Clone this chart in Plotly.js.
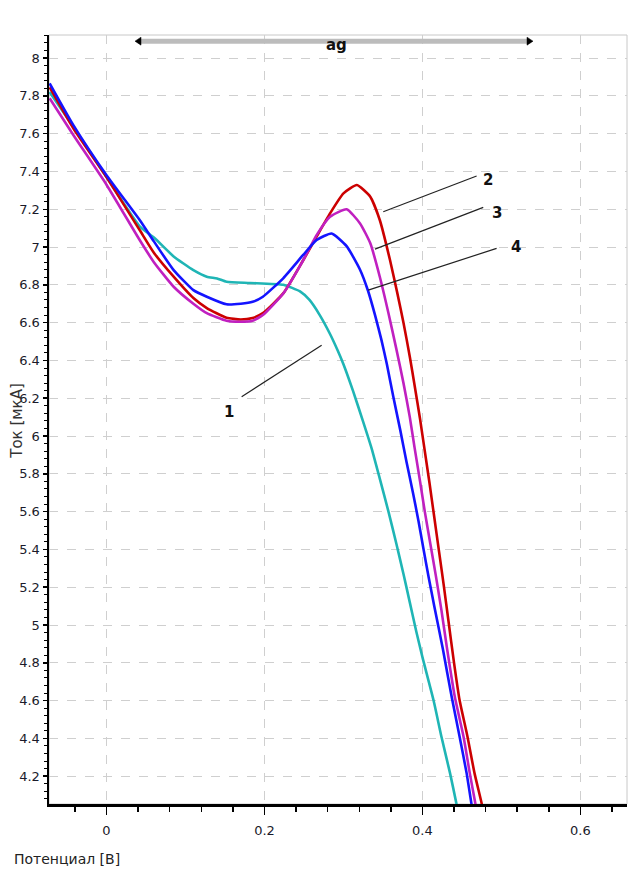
<!DOCTYPE html>
<html>
<head>
<meta charset="utf-8">
<script src="https://cdn.plot.ly/plotly-3.0.1.min.js"></script>
<style>html,body{margin:0;padding:0;background:#fff;}#chart{width:631px;height:872px;}</style>
</head>
<body>
<div id="chart"></div>
<script>
// Curve 1 (cyan)
const x1 = [-0.072, -0.042, 0, 0.042, 0.06, 0.085, 0.097, 0.11, 0.127, 0.14, 0.152, 0.182, 0.224, 0.245, 0.257, 0.27, 0.283, 0.293, 0.3, 0.312, 0.325, 0.336, 0.346, 0.357, 0.367, 0.376, 0.384, 0.392, 0.4, 0.414, 0.424, 0.435, 0.443, 0.446];
const y1 = [7.82, 7.637, 7.37, 7.11, 7.05, 6.95, 6.914, 6.878, 6.843, 6.834, 6.816, 6.81, 6.80, 6.765, 6.72, 6.64, 6.54, 6.45, 6.38, 6.24, 6.075, 5.93, 5.775, 5.60, 5.43, 5.27, 5.12, 4.97, 4.83, 4.603, 4.41, 4.215, 4.056, 3.99];
// Curve 2 (red)
const x2 = [-0.072, -0.042, 0, 0.042, 0.06, 0.085, 0.11, 0.127, 0.152, 0.17, 0.185, 0.198, 0.224, 0.249, 0.266, 0.283, 0.3, 0.317, 0.334, 0.346, 0.359, 0.368, 0.376, 0.384, 0.39, 0.397, 0.403, 0.409, 0.415, 0.421, 0.427, 0.433, 0.44, 0.447, 0.457, 0.466, 0.475, 0.478];
const y2 = [7.845, 7.628, 7.37, 7.09, 6.97, 6.843, 6.73, 6.677, 6.626, 6.617, 6.625, 6.65, 6.756, 6.93, 7.055, 7.178, 7.284, 7.328, 7.266, 7.143, 6.93, 6.76, 6.60, 6.42, 6.27, 6.09, 5.92, 5.75, 5.57, 5.39, 5.21, 5.02, 4.80, 4.603, 4.41, 4.215, 4.056, 3.99];
// Curve 3 (magenta)
const x3 = [-0.072, -0.042, 0, 0.042, 0.06, 0.085, 0.11, 0.127, 0.152, 0.17, 0.185, 0.198, 0.224, 0.249, 0.266, 0.283, 0.304, 0.321, 0.334, 0.346, 0.357, 0.367, 0.376, 0.384, 0.39, 0.397, 0.403, 0.41, 0.417, 0.424, 0.431, 0.441, 0.452, 0.46, 0.467, 0.47];
const y3 = [7.787, 7.593, 7.33, 7.037, 6.92, 6.79, 6.70, 6.65, 6.61, 6.605, 6.61, 6.64, 6.756, 6.93, 7.063, 7.16, 7.20, 7.125, 7.02, 6.843, 6.65, 6.46, 6.28, 6.10, 5.94, 5.76, 5.60, 5.43, 5.26, 5.08, 4.88, 4.62, 4.41, 4.215, 4.056, 3.99];
// Curve 4 (blue)
const x4 = [-0.072, -0.042, 0, 0.042, 0.06, 0.085, 0.11, 0.127, 0.152, 0.17, 0.185, 0.198, 0.224, 0.249, 0.266, 0.285, 0.304, 0.321, 0.331, 0.34, 0.348, 0.355, 0.363, 0.372, 0.38, 0.388, 0.395, 0.401, 0.408, 0.415, 0.426, 0.437, 0.447, 0.456, 0.462, 0.465];
const y4 = [7.866, 7.645, 7.38, 7.143, 7.03, 6.878, 6.772, 6.737, 6.697, 6.70, 6.71, 6.737, 6.836, 6.958, 7.037, 7.072, 7.005, 6.88, 6.77, 6.64, 6.51, 6.38, 6.21, 6.03, 5.86, 5.70, 5.55, 5.41, 5.25, 5.10, 4.87, 4.62, 4.41, 4.215, 4.056, 3.99];

const curveNames = ['1', '2', '3', '4'];
const curveColors = ['#1fb5b5', '#cc0000', '#c020c0', '#1414ff'];

// Callout labels: label text, line start (on curve), line end, label position
const calloutLabels = ['1', '2', '3', '4'];
const calloutStartX = [0.2724, 0.3504, 0.3399, 0.3314];
const calloutStartY = [6.481, 7.187, 6.989, 6.772];
const calloutEndX = [0.1711, 0.4686, 0.477, 0.4939];
const calloutEndY = [6.208, 7.376, 7.21, 6.993];
const calloutTextX = [0.155, 0.4833, 0.4947, 0.5184];
const calloutTextY = [6.129, 7.354, 7.178, 7.002];

const xTitle = 'Потенциал [В]';
const yTitle = 'Ток [мкА]';
const topLabel = 'ag';

const FONT = 'DejaVu Sans, Verdana, sans-serif';

const xs = [x1, x2, x3, x4];
const ys = [y1, y2, y3, y4];
const order = [0, 1, 2, 3];
const traces = order.map(i => ({
  type: 'scatter', mode: 'lines', x: xs[i], y: ys[i], name: curveNames[i],
  line: {color: curveColors[i], width: 2.6, shape: 'spline', smoothing: 0.5},
  hoverinfo: 'skip'
}));

const shapes = [
  {type: 'rect', xref: 'paper', yref: 'paper', x0: 0, x1: 1, y0: 0, y1: 1,
   line: {color: '#c8c8c8', width: 1}, layer: 'below'},
  // top scale bar
  {type: 'line', xref: 'paper', yref: 'paper', x0: 0.155, x1: 0.83, y0: 0.992, y1: 0.992,
   line: {color: '#bcbcbc', width: 5}},
  {type: 'path', xref: 'paper', yref: 'paper', xsizemode: 'pixel', ysizemode: 'pixel',
   xanchor: 0.1488, yanchor: 0.992, path: 'M 0 0 L 6 4 L 6 -4 Z',
   fillcolor: '#000', line: {color: '#000', width: 0.5}},
  {type: 'path', xref: 'paper', yref: 'paper', xsizemode: 'pixel', ysizemode: 'pixel',
   xanchor: 0.8374, yanchor: 0.992, path: 'M 0 0 L -6 4 L -6 -4 Z',
   fillcolor: '#000', line: {color: '#000', width: 0.5}}
];
calloutLabels.forEach((t, i) => {
  shapes.push({type: 'line', xref: 'x', yref: 'y',
    x0: calloutStartX[i], y0: calloutStartY[i], x1: calloutEndX[i], y1: calloutEndY[i],
    line: {color: '#222', width: 1.2}});
});

const annotations = calloutLabels.map((t, i) => ({
  xref: 'x', yref: 'y', x: calloutTextX[i], y: calloutTextY[i], text: '<b>' + t + '</b>',
  showarrow: false, font: {family: FONT, size: 15, color: '#111'}
}));
annotations.push({xref: 'paper', yref: 'paper', x: 0.4977, y: 1.0013, text: '<b>' + topLabel + '</b>',
  showarrow: false, font: {family: FONT, size: 15, color: '#111'}});
annotations.push({xref: 'paper', yref: 'paper', x: -0.0559, y: 0.498, text: yTitle, textangle: -90,
  showarrow: false, font: {family: FONT, size: 15, color: '#333'}, xanchor: 'center', yanchor: 'middle'});
annotations.push({xref: 'paper', yref: 'paper', x: -0.064, y: -0.058, text: xTitle,
  showarrow: false, font: {family: FONT, size: 14, color: '#222'}, xanchor: 'left', yanchor: 'top'});

const layout = {
  width: 631, height: 872,
  margin: {l: 49, r: 4, t: 35, b: 68},
  paper_bgcolor: '#fff', plot_bgcolor: '#fff',
  showlegend: false,
  font: {family: FONT, size: 13, color: '#1a1a2a'},
  xaxis: {
    range: [-0.0728, 0.659], dtick: 0.2, tick0: 0,
    ticks: 'outside', ticklen: 8, tickcolor: '#000', tickwidth: 1.5,
    minor: {dtick: 0.04, ticks: 'outside', ticklen: 5, tickcolor: '#000', tickwidth: 1.5, showgrid: false},
    showgrid: true, gridcolor: '#cfcfcf', griddash: 'dash', gridwidth: 1,
    showline: true, linecolor: '#000', linewidth: 2.5,
    zeroline: false, ticklabelstandoff: 5,
    tickfont: {family: FONT, size: 13, color: '#1a1a2a'}
  },
  yaxis: {
    range: [4.053, 8.122], dtick: 0.2, tick0: 0,
    ticks: 'outside', ticklen: 4, tickcolor: '#000', tickwidth: 1.5,
    minor: {dtick: 0.04, ticks: 'outside', ticklen: 3, tickcolor: '#000', tickwidth: 1, showgrid: false},
    showgrid: true, gridcolor: '#cfcfcf', griddash: 'dash', gridwidth: 1,
    showline: true, linecolor: '#000', linewidth: 2.5,
    zeroline: false,
    tickfont: {family: FONT, size: 13, color: '#1a1a2a'}
  },
  shapes: shapes,
  annotations: annotations
};

Plotly.newPlot('chart', traces, layout, {staticPlot: true, displayModeBar: false});
</script>
</body>
</html>
